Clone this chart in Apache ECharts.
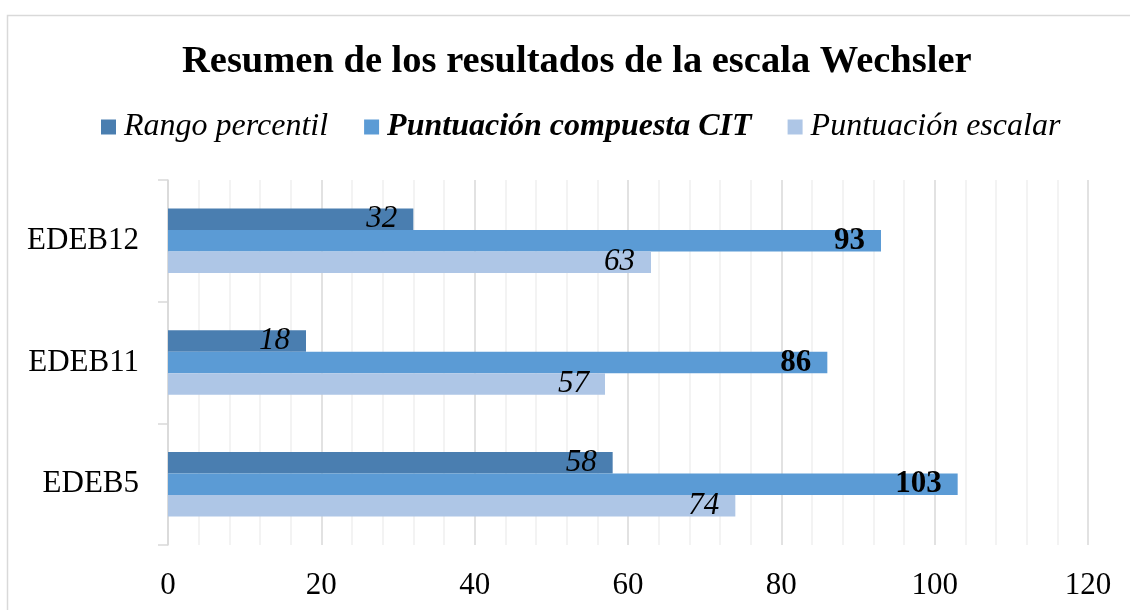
<!DOCTYPE html>
<html>
<head>
<meta charset="utf-8">
<script src="https://cdn.jsdelivr.net/npm/echarts@6/dist/echarts.min.js"></script>
<style>
html,body{margin:0;padding:0;background:#fff;}
#c{width:1130px;height:610px;}
</style>
</head>
<body>
<div id="c"></div>
<script>
var categories = ['EDEB5', 'EDEB11', 'EDEB12'];
var rangoPercentil = [58, 18, 32];
var puntuacionCIT = [103, 86, 93];
var puntuacionEscalar = [74, 57, 63];
var xTicks = [0, 20, 40, 60, 80, 100, 120];
var seriesNames = ['Rango percentil', 'Puntuación compuesta CIT', 'Puntuación escalar'];

var FONT = '"Liberation Serif", "Times New Roman", serif';
var chart = echarts.init(document.getElementById('c'), null, {renderer: 'canvas'});

function lab(italic, bold) {
  return {
    show: true,
    position: 'insideRight',
    distance: 16,
    fontFamily: FONT,
    fontSize: 31,
    fontStyle: italic ? 'italic' : 'normal',
    fontWeight: bold ? 'bold' : 'normal',
    color: '#000'
  };
}

chart.setOption({
  animation: false,
  backgroundColor: '#fff',
  graphic: [{
    type: 'rect', silent: true, z: -1,
    shape: {x: 7.5, y: 15.5, width: 1300, height: 700},
    style: {fill: 'none', stroke: '#d9d9d9', lineWidth: 1.5}
  }],
  title: {
    text: 'Resumen de los resultados de la escala Wechsler',
    left: 182,
    top: 43,
    padding: 0,
    textStyle: {fontFamily: FONT, fontSize: 38.5, fontWeight: 'bold', color: '#000'}
  },
  legend: {
    top: 111,
    left: 101,
    padding: 0,
    icon: 'rect',
    itemWidth: 15,
    itemHeight: 15,
    itemGap: 36,
    textStyle: {fontFamily: FONT, fontSize: 32, fontStyle: 'italic', color: '#000', padding: [0, 0, 0, 3]},
    data: [
      {name: seriesNames[0]},
      {name: seriesNames[1], textStyle: {fontWeight: 'bold'}},
      {name: seriesNames[2]}
    ]
  },
  grid: {left: 168, right: 42, top: 180, bottom: 65, containLabel: false},
  xAxis: {
    type: 'value',
    min: xTicks[0],
    max: xTicks[xTicks.length - 1],
    interval: 20,
    axisLine: {show: false},
    axisTick: {show: false},
    axisLabel: {fontFamily: FONT, fontSize: 31, color: '#000', margin: 25},
    splitLine: {show: true, lineStyle: {color: '#d9d9d9', width: 1.5}},
    minorTick: {show: false, splitNumber: 5},
    minorSplitLine: {show: true, lineStyle: {color: '#f0f0f0', width: 1.5}}
  },
  yAxis: {
    type: 'category',
    data: categories,
    axisLine: {show: true, lineStyle: {color: '#d9d9d9', width: 1.5}},
    axisTick: {show: true, length: 10, lineStyle: {color: '#d9d9d9', width: 1.5}},
    axisLabel: {fontFamily: FONT, fontSize: 31, color: '#000', margin: 29},
    splitLine: {show: false}
  },
  series: [
    {name: seriesNames[0], type: 'bar', data: rangoPercentil, itemStyle: {color: '#4a7eb0'},
     barGap: '0%', barCategoryGap: '47%', label: lab(true, false)},
    {name: seriesNames[1], type: 'bar', data: puntuacionCIT, itemStyle: {color: '#5b9bd5'},
     barGap: '0%', barCategoryGap: '47%', label: lab(false, true)},
    {name: seriesNames[2], type: 'bar', data: puntuacionEscalar, itemStyle: {color: '#aec6e6'},
     barGap: '0%', barCategoryGap: '47%', label: lab(true, false)}
  ]
});
</script>
</body>
</html>
